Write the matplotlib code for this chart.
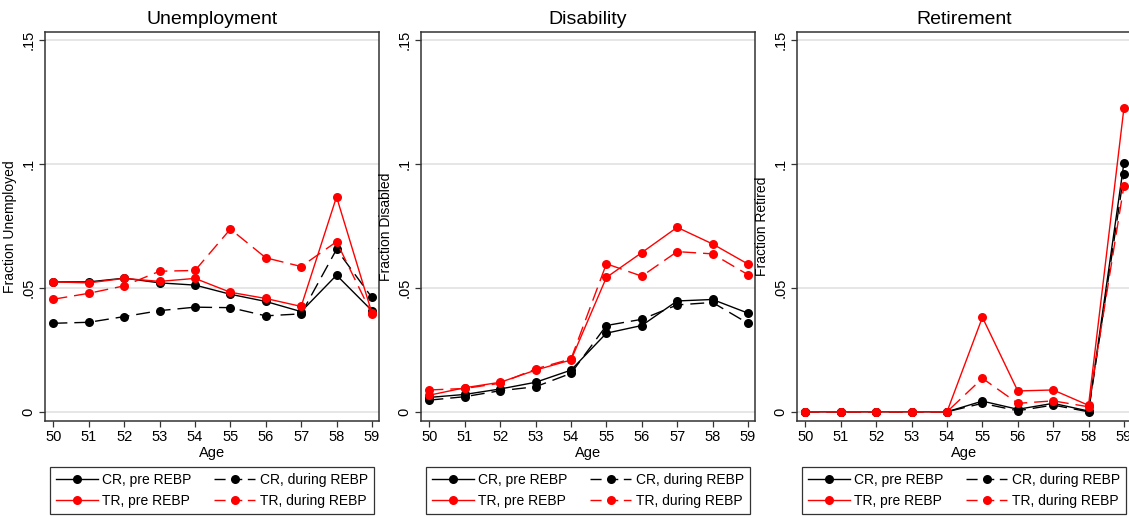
import matplotlib
matplotlib.use("Agg")
import matplotlib.pyplot as plt
from matplotlib.lines import Line2D

plt.rcParams['font.family'] = ['Liberation Sans', 'DejaVu Sans']

ages = [50, 51, 52, 53, 54, 55, 56, 57, 58, 59]

titles = ["Unemployment", "Disability", "Retirement"]
ylabels = ["Fraction Unemployed", "Fraction Disabled", "Fraction Retired"]

# Unemployment
unemp_cr_pre = [0.0524, 0.0524, 0.0539, 0.0520, 0.0511, 0.0474, 0.0445, 0.0404, 0.0551, 0.0408]
unemp_cr_during = [0.0357, 0.0361, 0.0384, 0.0408, 0.0422, 0.0420, 0.0387, 0.0395, 0.0655, 0.0461]
unemp_tr_pre = [0.0524, 0.0520, 0.0538, 0.0526, 0.0538, 0.0482, 0.0457, 0.0425, 0.0867, 0.0398]
unemp_tr_during = [0.0454, 0.0478, 0.0508, 0.0567, 0.0570, 0.0737, 0.0621, 0.0586, 0.0686, 0.0394]

# Disability
dis_cr_pre = [0.0058, 0.0070, 0.0092, 0.0119, 0.0168, 0.0317, 0.0348, 0.0447, 0.0453, 0.0398]
dis_cr_during = [0.0047, 0.0061, 0.0085, 0.0101, 0.0155, 0.0348, 0.0373, 0.0431, 0.0441, 0.0357]
dis_tr_pre = [0.0067, 0.0097, 0.0119, 0.0168, 0.0209, 0.0542, 0.0642, 0.0744, 0.0677, 0.0596]
dis_tr_during = [0.0088, 0.0094, 0.0115, 0.0173, 0.0213, 0.0597, 0.0547, 0.0646, 0.0637, 0.0553]

# Retirement
ret_cr_pre = [0.0, 0.0, 0.0, 0.0, 0.0, 0.0043, 0.0010, 0.0034, 0.0003, 0.1004]
ret_cr_during = [0.0, 0.0, 0.0, 0.0, 0.0, 0.0034, 0.0004, 0.0027, 0.0000, 0.0960]
ret_tr_pre = [0.0, 0.0, 0.0, 0.0, 0.0, 0.0381, 0.0084, 0.0088, 0.0026, 0.1225]
ret_tr_during = [0.0, 0.0, 0.0, 0.0, 0.0, 0.0135, 0.0034, 0.0044, 0.0020, 0.0912]

panels = [
    (unemp_cr_pre, unemp_cr_during, unemp_tr_pre, unemp_tr_during),
    (dis_cr_pre, dis_cr_during, dis_tr_pre, dis_tr_during),
    (ret_cr_pre, ret_cr_during, ret_tr_pre, ret_tr_during),
]

series_labels = ["CR, pre REBP", "CR, during REBP", "TR, pre REBP", "TR, during REBP"]
series_colors = ["black", "black", "#ff0000", "#ff0000"]
series_dashed = [False, True, False, True]

yticks = [0, 0.05, 0.1, 0.15]
ytick_labels = ["0", ".05", ".1", ".15"]

W, H = 1129, 518
fig = plt.figure(figsize=(W / 100, H / 100), dpi=100)

lefts = [45, 421, 797]
ax_w = 334
ax_top = 32
ax_bot = 420.7

DASH = (10, 5)

for i, (left, data) in enumerate(zip(lefts, panels)):
    ax = fig.add_axes([left / W, (H - ax_bot) / H, ax_w / W, (ax_bot - ax_top) / H])
    for ys, lab, col, dashed in zip(data, series_labels, series_colors, series_dashed):
        kw = dict(color=col, lw=1.0, marker='o', markersize=6.5, markeredgewidth=0,
                  label=lab, zorder=3)
        line, = ax.plot(ages, ys, **kw)
        if dashed:
            line.set_dashes(DASH)
    ax.set_xlim(49.76, 59.2)
    ax.set_ylim(-0.0036, 0.1532)
    ax.set_xticks(ages)
    ax.set_xticklabels([str(a) for a in ages], fontsize=10.5)
    ax.set_yticks(yticks)
    ax.set_yticklabels(ytick_labels, fontsize=10.5, rotation=90, va='center')
    ax.grid(axis='y', color='#e2e2e2', lw=1.2, zorder=0)
    ax.set_axisbelow(True)
    for sp in ax.spines.values():
        sp.set_color('#333333')
        sp.set_linewidth(1.1)
    ax.tick_params(axis='both', length=4, width=0.9, color='#333333', pad=3)
    ax.set_title(titles[i], fontsize=14, pad=6)
    ax.set_xlabel("Age", fontsize=10.5, labelpad=1)
    ax.set_ylabel(ylabels[i], fontsize=10, labelpad=3)

    handles = []
    for lab, col, dashed in zip(series_labels, series_colors, series_dashed):
        h = Line2D([], [], color=col, lw=1.0, marker='o', markersize=6.5,
                   markeredgewidth=0, label=lab)
        if dashed:
            h.set_dashes((8, 4))
        handles.append(h)
    # rows: CR pre | CR during ; TR pre | TR during
    order = [handles[0], handles[2], handles[1], handles[3]]
    leg = ax.legend(handles=order, ncol=2, loc='upper center',
                    bbox_to_anchor=(0.5, -0.1), fontsize=10, frameon=True,
                    fancybox=False, edgecolor='black', handlelength=3.0,
                    handletextpad=0.3, columnspacing=1.6, borderpad=0.45,
                    labelspacing=0.5)
    leg.get_frame().set_linewidth(0.9)

fig.savefig("out.png", dpi=100)
